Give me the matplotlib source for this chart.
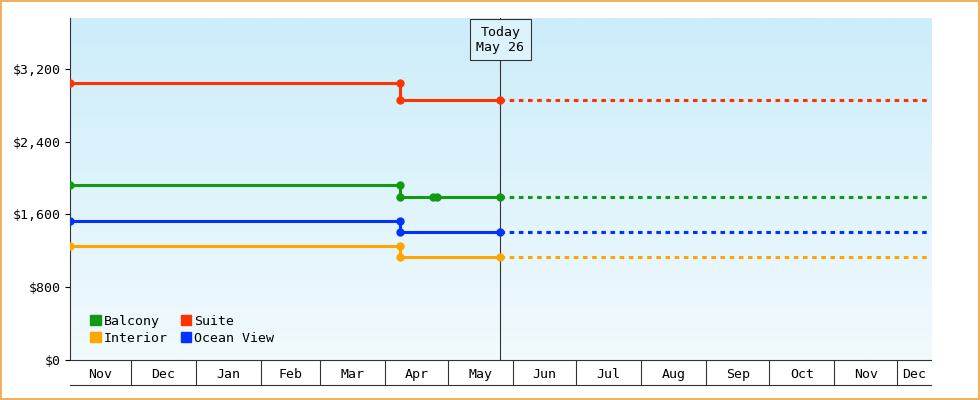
import matplotlib
matplotlib.use("Agg")
import matplotlib.pyplot as plt
import matplotlib.dates as mdates
import numpy as np
import datetime as dt

start = dt.date(2024, 11, 2)
end = dt.date(2025, 12, 17)
today = dt.date(2025, 5, 26)
change = dt.date(2025, 4, 8)

series_names = ["Balcony", "Suite", "Interior", "Ocean View"]
colors = ["#119911", "#ff3300", "#ffa500", "#0033ff"]
before = [1925, 3040, 1254, 1529]
after = [1793, 2860, 1133, 1408]
extra_points = {"Balcony": [dt.date(2025, 4, 24), dt.date(2025, 4, 26)]}
month_labels = ["Nov", "Dec", "Jan", "Feb", "Mar", "Apr", "May", "Jun", "Jul", "Aug", "Sep", "Oct", "Nov", "Dec"]
yticks = [0, 800, 1600, 2400, 3200]

plt.rcParams['font.family'] = ['DejaVu Sans Mono']
fig = plt.figure(figsize=(9.8, 4), dpi=100)
fig.patch.set_facecolor("white")
fig.add_artist(plt.Rectangle((0.001, 0.002), 0.998, 0.996, transform=fig.transFigure,
                             fill=False, edgecolor="#f0a040", lw=1.2))
ax = fig.add_axes([70/980, 40/400, 861/980, 342/400])
grad = np.linspace(0, 1, 256).reshape(-1, 1)
from matplotlib.colors import LinearSegmentedColormap
cm = LinearSegmentedColormap.from_list("g", ["#ccedfa", "#f2fafd"])
ax.imshow(grad, aspect="auto", cmap=cm, extent=[0, 1, 0, 1], transform=ax.transAxes, zorder=0)

s, e, t, c = map(mdates.date2num, [start, end, today, change])
for name, col, b, a in zip(series_names, colors, before, after):
    ax.plot([s, c, c, t], [b, b, a, a], color=col, lw=2.2, zorder=3)
    ax.plot([t, e], [a, a], color=col, lw=2.2, ls=(0, (1.5, 1.5)), zorder=3)
    xs = [s, c, c, t] + [mdates.date2num(d) for d in extra_points.get(name, [])]
    ys = [b, b, a, a] + [a] * len(extra_points.get(name, []))
    ax.plot(xs, ys, "o", color=col, ms=5, zorder=4)

ax.axvline(t, color="#333333", lw=0.8, zorder=2)
ax.text(t, 3520, "Today\nMay 26", ha="center", va="center", fontsize=9.5, zorder=5,
        bbox=dict(boxstyle="square,pad=0.5", fc="#ddf3fb", ec="#333333", lw=0.8))

ax.set_xlim(s, e)
ax.set_ylim(0, 3760)
ax.set_yticks(yticks)
ax.set_yticklabels([f"${v:,}" for v in yticks], fontsize=9.5)
for sp in ["top", "right"]:
    ax.spines[sp].set_visible(False)
ax.spines["left"].set_color("#333333")
ax.spines["bottom"].set_color("#333333")

# month boundaries
bounds = []
d = dt.date(2024, 12, 1)
while d <= end:
    bounds.append(mdates.date2num(d))
    d = dt.date(d.year + (d.month == 12), d.month % 12 + 1, 1)
edges = [s] + bounds + [e]
centers = [(edges[i] + edges[i+1]) / 2 for i in range(len(edges) - 1)]
ax.set_xticks(centers)
ax.set_xticklabels(month_labels[:len(centers)], fontsize=9.5)
ax.tick_params(axis="x", length=0, pad=6)
ax.set_xticks(bounds, minor=True)
ax.tick_params(axis="x", which="minor", length=18, direction="out", color="#333333", width=0.8)
ax.plot([0, 1], [-25/342, -25/342], transform=ax.transAxes, color="#333333", lw=0.8, clip_on=False)

from matplotlib.patches import Patch
order = [0, 2, 1, 3]
handles = [Patch(color=colors[i]) for i in order]
ax.legend(handles, [series_names[i] for i in order], ncol=2, loc="lower left", frameon=False,
          fontsize=9.5, handlelength=0.8, handleheight=0.8, handletextpad=0.2, columnspacing=1.0,
          labelspacing=0.3, bbox_to_anchor=(0.01, 0.01))
fig.savefig("out.png", dpi=100)
